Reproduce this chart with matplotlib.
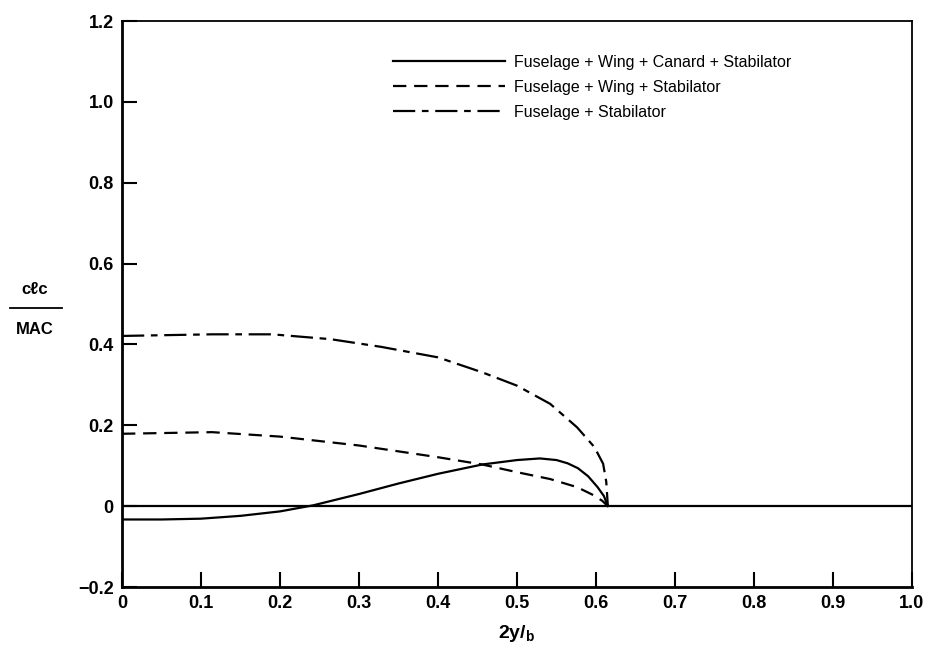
import matplotlib
matplotlib.use("Agg")
import matplotlib.pyplot as plt
from matplotlib.lines import Line2D

# data
# Fuselage + Wing + Canard + Stabilator
fwcs_x = [0.0, 0.05, 0.1, 0.15, 0.2, 0.242, 0.3, 0.35, 0.4, 0.456, 0.5, 0.529, 0.55, 0.564, 0.577, 0.59, 0.602, 0.61, 0.615]
fwcs_y = [-0.033, -0.033, -0.031, -0.024, -0.013, 0.002, 0.030, 0.056, 0.080, 0.103, 0.114, 0.118, 0.114, 0.106, 0.094, 0.074, 0.047, 0.025, 0.0]
# Fuselage + Wing + Stabilator
fws_x = [0.0, 0.114, 0.2, 0.3, 0.4, 0.456, 0.5, 0.542, 0.576, 0.598, 0.608, 0.615]
fws_y = [0.179, 0.183, 0.172, 0.150, 0.121, 0.103, 0.084, 0.067, 0.047, 0.026, 0.013, 0.0]
# Fuselage + Stabilator
fs_x = [0.0, 0.114, 0.19, 0.264, 0.328, 0.4, 0.456, 0.5, 0.542, 0.576, 0.598, 0.609, 0.613, 0.615]
fs_y = [0.421, 0.425, 0.425, 0.413, 0.394, 0.368, 0.331, 0.298, 0.253, 0.195, 0.146, 0.105, 0.060, 0.0]
# zero line (solid curve continues along it)
zero_x = [0.0, 1.0]
zero_y = [0.0, 0.0]

legend_labels = ["Fuselage + Wing + Canard + Stabilator",
                 "Fuselage + Wing + Stabilator",
                 "Fuselage + Stabilator"]
xticks = [0, 0.1, 0.2, 0.3, 0.4, 0.5, 0.6, 0.7, 0.8, 0.9, 1.0]
xtick_labels = ["0", "0.1", "0.2", "0.3", "0.4", "0.5", "0.6", "0.7", "0.8", "0.9", "1.0"]
yticks = [-0.2, 0, 0.2, 0.4, 0.6, 0.8, 1.0, 1.2]
ytick_labels = ["\u22120.2", "0", "0.2", "0.4", "0.6", "0.8", "1.0", "1.2"]

plt.rcParams['font.family'] = ['Liberation Sans', 'DejaVu Sans']
plt.rcParams['mathtext.fontset'] = 'custom'
plt.rcParams['mathtext.rm'] = 'Liberation Sans:bold'

fig = plt.figure(figsize=(9.32, 6.59), dpi=100)
ax = fig.add_axes([122/932, 1-587/659, (912-122)/932, (587-21)/659])

ax.plot(zero_x, zero_y, color="black", lw=1.6)
l1, = ax.plot(fwcs_x, fwcs_y, color="black", lw=1.6)
l2, = ax.plot(fws_x, fws_y, color="black", lw=1.6, linestyle=(0, (6, 3.5)))
l3, = ax.plot(fs_x, fs_y, color="black", lw=1.6, linestyle=(0, (10, 3, 3, 3)))

ax.set_xlim(0, 1.0)
ax.set_ylim(-0.2, 1.2)
ax.set_xticks(xticks)
ax.set_xticklabels(xtick_labels, fontsize=13, fontweight="bold")
ax.set_yticks(yticks)
ax.set_yticklabels(ytick_labels, fontsize=13, fontweight="bold")
ax.tick_params(direction="in", length=11, width=1.5, pad=6)
for side in ["left", "bottom"]:
    ax.spines[side].set_linewidth(2)
for side in ["top", "right"]:
    ax.spines[side].set_linewidth(1.3)

ax.set_xlabel(r"2y/$_\mathrm{b}$", fontsize=14, fontweight="bold", labelpad=8)

# y label as a stacked fraction
fig.text(35/932, 1-289/659, "c\u2113c", ha="center", va="center", fontsize=12, fontweight="bold")
fig.add_artist(Line2D([10/932, 62/932], [1-308/659, 1-308/659], color="black", lw=1.3))
fig.text(35/932, 1-329/659, "MAC", ha="center", va="center", fontsize=12, fontweight="bold")

ax.legend([l1, l2, l3], legend_labels, loc="upper left",
          bbox_to_anchor=(393/932, 1-55/659), bbox_transform=fig.transFigure,
          frameon=False, fontsize=11.5, handlelength=7, handletextpad=0.6,
          labelspacing=0.62, borderpad=0, borderaxespad=0)

plt.savefig("out.png", dpi=100)
